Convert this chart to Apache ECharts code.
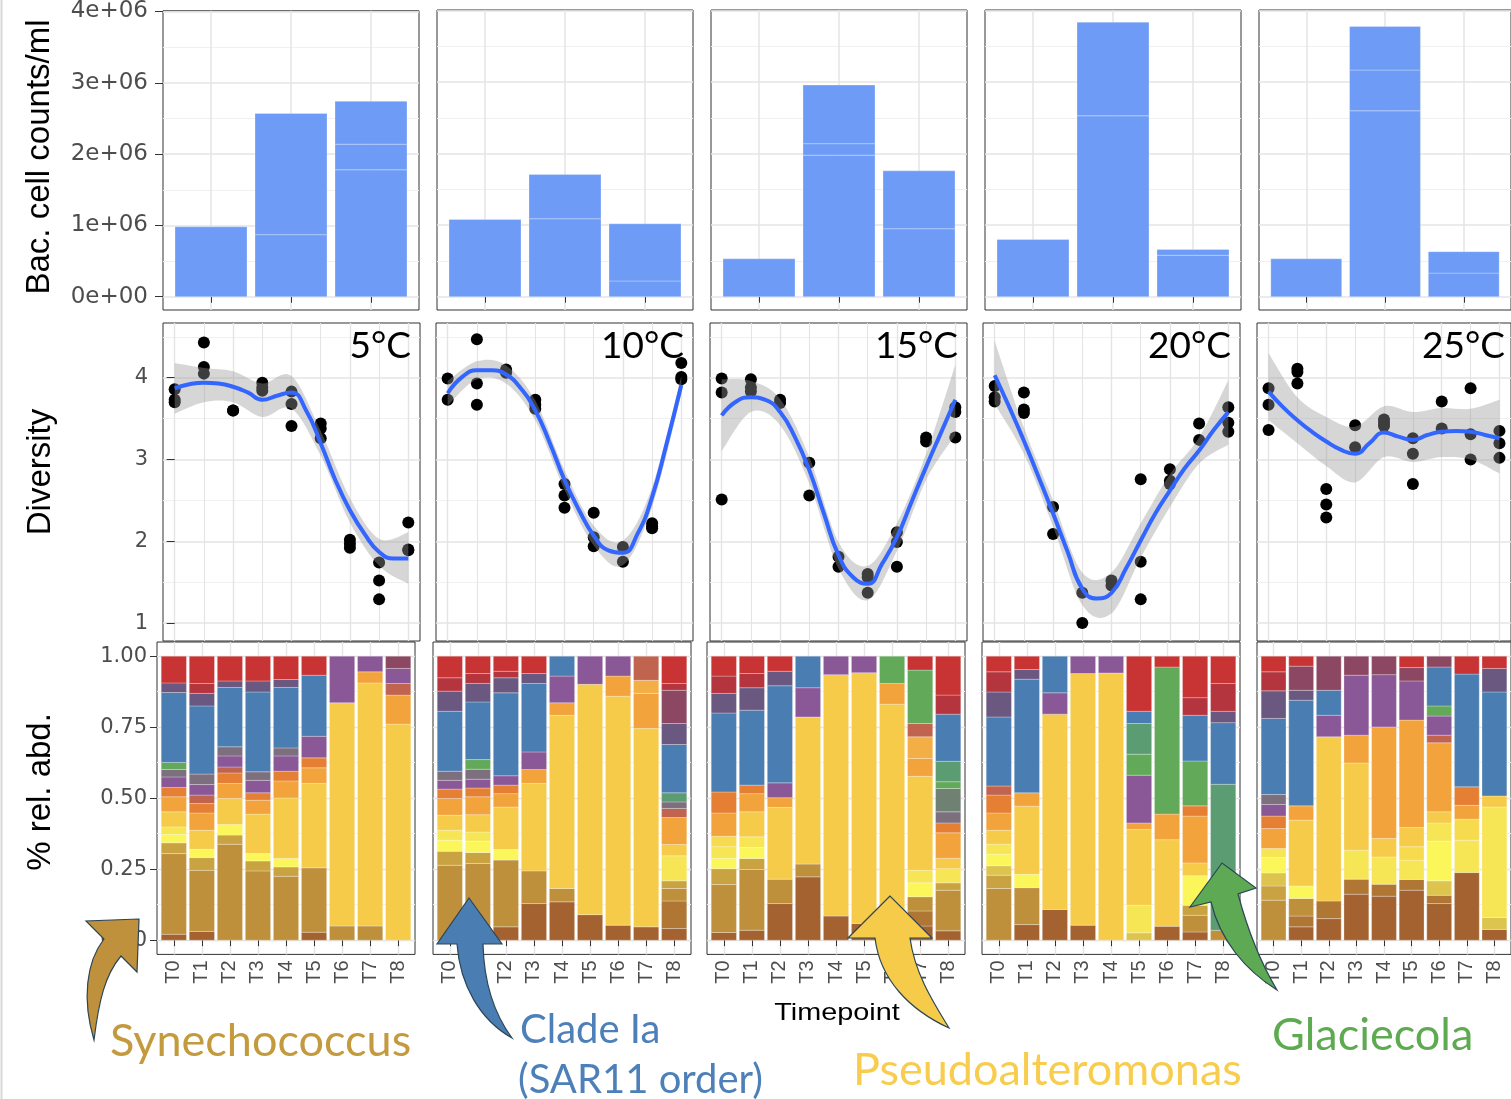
<!DOCTYPE html>
<html>
<head>
<meta charset="utf-8">
<script src="https://cdn.jsdelivr.net/npm/echarts@6.0.0/dist/echarts.min.js"></script>
<style>
html,body{margin:0;padding:0;background:#ffffff;}
#chart{width:1511px;height:1099px;}
</style>
</head>
<body>
<div id="chart"></div>
<script>
// ================= DATA =================
const temperatures = ['5°C', '10°C', '15°C', '20°C', '25°C'];
const timepoints = ['T0', 'T1', 'T2', 'T3', 'T4', 'T5', 'T6', 'T7', 'T8'];

const cellTicks = [0, 1e6, 2e6, 3e6, 4e6];
const cellTickLabels = ['0e+00', '1e+06', '2e+06', '3e+06', '4e+06'];
const cellMinorTicks = [0.5e6, 1.5e6, 2.5e6, 3.5e6];
const diversityTicks = [1, 2, 3, 4];
const diversityMinorTicks = [1.5, 2.5, 3.5, 4.5];
const timeMajorTicks = [0, 2, 4, 6, 8];
const timeMinorTicks = [1, 3, 5, 7];
const abundTicks = [0, 0.25, 0.5, 0.75, 1];
const abundTickLabels = ['0.00', '0.25', '0.50', '0.75', '1.00'];
const abundMinorTicks = [0.125, 0.375, 0.625, 0.875];

// Bacterial cell counts: 3 bars per temperature, each bar made of stacked sub-segments
const cellCounts5C  = [[0.98e6], [0.87e6, 1.70e6], [1.78e6, 0.36e6, 0.60e6]];
const cellCounts10C = [[1.08e6], [1.09e6, 0.62e6], [0.22e6, 0.80e6]];
const cellCounts15C = [[0.53e6], [1.98e6, 0.16e6, 0.82e6], [0.95e6, 0.81e6]];
const cellCounts20C = [[0.80e6], [2.53e6, 1.31e6], [0.58e6, 0.08e6]];
const cellCounts25C = [[0.53e6], [2.60e6, 0.57e6, 0.61e6], [0.33e6, 0.30e6]];

// Diversity points [timepoint, value]
const diversity5C = [[0,3.86],[0,3.73],[0,3.70],[1,4.43],[1,4.13],[1,4.05],[2,3.60],[2,3.60],[3,3.94],[3,3.88],[3,3.84],[4,3.83],[4,3.68],[4,3.41],[5,3.44],[5,3.38],[5,3.26],[6,2.02],[6,1.97],[6,1.92],[7,1.74],[7,1.52],[7,1.29],[8,2.23],[8,1.90],[8,1.89]];
const diversity10C = [[0,3.99],[0,3.73],[1,4.47],[1,3.93],[1,3.67],[2,4.10],[2,4.08],[2,4.06],[3,3.73],[3,3.67],[3,3.62],[4,2.70],[4,2.56],[4,2.41],[5,2.35],[5,2.05],[5,1.94],[6,1.93],[6,1.75],[7,2.22],[7,2.18],[7,2.16],[8,4.18],[8,4.01],[8,3.98]];
const diversity15C = [[0,3.99],[0,3.82],[0,2.51],[1,3.98],[1,3.88],[1,3.83],[2,3.73],[2,3.69],[3,2.96],[3,2.56],[4,1.81],[4,1.69],[5,1.60],[5,1.56],[5,1.37],[6,2.11],[6,1.99],[6,1.69],[7,3.27],[7,3.22],[8,3.64],[8,3.58],[8,3.27]];
const diversity20C = [[0,3.90],[0,3.76],[0,3.71],[1,3.82],[1,3.61],[1,3.57],[2,2.42],[2,2.09],[3,1.37],[3,1.00],[4,1.52],[4,1.46],[5,2.76],[5,1.75],[5,1.29],[6,2.88],[6,2.74],[6,2.70],[7,3.44],[7,3.24],[8,3.64],[8,3.45],[8,3.34]];
const diversity25C = [[0,3.87],[0,3.67],[0,3.36],[1,4.11],[1,4.07],[1,3.93],[2,2.64],[2,2.45],[2,2.29],[3,3.42],[3,3.15],[4,3.49],[4,3.45],[4,3.41],[5,3.26],[5,3.07],[5,2.70],[6,3.71],[6,3.38],[7,3.87],[7,3.31],[7,3.00],[8,3.35],[8,3.20],[8,3.02]];

// Smoothed (loess) curve read at half time steps
const smoothTimes = [0,0.5,1,1.5,2,2.5,3,3.5,4,4.5,5,5.5,6,6.5,7,7.5,8];
const smooth5C  = [3.87,3.92,3.94,3.93,3.89,3.82,3.73,3.78,3.82,3.60,3.20,2.75,2.38,2.09,1.87,1.79,1.79];
const smooth10C = [3.81,4.01,4.09,4.09,4.04,3.87,3.60,3.20,2.75,2.38,2.07,1.89,1.86,2.09,2.54,3.20,3.91];
const smooth15C = [3.54,3.71,3.76,3.73,3.58,3.28,2.87,2.34,1.83,1.56,1.48,1.73,2.05,2.48,2.91,3.32,3.73];
const smooth20C = [4.03,3.64,3.23,2.79,2.34,1.87,1.42,1.30,1.37,1.67,2.01,2.34,2.62,2.89,3.11,3.36,3.58];
const smooth25C = [3.83,3.64,3.48,3.34,3.22,3.12,3.07,3.20,3.33,3.28,3.24,3.30,3.34,3.35,3.34,3.30,3.26];

// Confidence band at each timepoint
const band5CLo  = [3.56,3.70,3.70,3.52,3.62,3.05,2.23,1.70,1.48];
const band5CHi  = [4.18,4.12,4.08,3.93,4.02,3.35,2.53,2.03,2.11];
const band10CLo = [3.66,3.98,3.93,3.48,2.63,1.95,1.71,2.42,3.80];
const band10CHi = [3.96,4.20,4.15,3.72,2.87,2.19,2.01,2.66,4.02];
const band15CLo = [3.10,3.58,3.42,2.71,1.67,1.28,1.88,2.75,3.30];
const band15CHi = [3.98,3.96,3.74,3.03,1.99,1.70,2.22,3.07,4.16];
const band20CLo = [3.68,3.07,2.18,1.22,1.12,1.80,2.42,2.95,3.18];
const band20CHi = [4.45,3.39,2.50,1.62,1.62,2.22,2.82,3.27,3.97];
const band25CLo = [3.48,3.20,2.92,2.72,3.03,2.97,3.03,3.00,2.83];
const band25CHi = [4.30,3.76,3.52,3.40,3.65,3.58,3.63,3.62,3.73];

// Taxa (stacking order bottom -> top)
const taxa = ['Taxon brown A','Taxon brown B','Synechococcus','Taxon gold','Taxon khaki','Taxon yellow A','Taxon yellow B','Taxon yellow C','Pseudoalteromonas','Taxon orange A','Taxon orange B','Taxon dark orange','Taxon salmon','Taxon purple','Taxon grey','Taxon grey-green','Glaciecola','Taxon teal','Clade Ia','Taxon slate','Taxon wine','Taxon crimson','Taxon red'];
const taxaKeys = ['Brown','BrownB','Syn','Gold','Khaki','YelB','YelL','YelL2','Pseudo','Orange','OrangeB','DkOrange','Salmon','Purple','Gray','GrayGreen','Green','Teal','Blue','Slate','Wine','Crimson','Red'];

// Relative abundance: each bar = list of [taxon, cumulative top of segment]
const relAbund5C = [
  [['Brown',.021],['Syn',.305],['Gold',.343],['YelB',.372],['YelL',.399],['Pseudo',.452],['Orange',.505],['DkOrange',.538],['Purple',.575],['Gray',.601],['Green',.626],['Blue',.872],['Slate',.906],['Red',1]],
  [['Brown',.031],['Syn',.246],['Gold',.291],['YelB',.320],['Pseudo',.387],['Orange',.448],['DkOrange',.481],['Salmon',.511],['Purple',.548],['Gray',.585],['Blue',.825],['Slate',.869],['Crimson',.904],['Red',1]],
  [['Syn',.338],['Gold',.370],['YelB',.407],['Pseudo',.499],['Orange',.552],['DkOrange',.589],['Salmon',.610],['Purple',.649],['Gray',.681],['Blue',.890],['Slate',.913],['Red',1]],
  [['Syn',.244],['Gold',.279],['YelB',.305],['Pseudo',.444],['Orange',.493],['DkOrange',.519],['Purple',.563],['Gray',.593],['Blue',.874],['Slate',.913],['Red',1]],
  [['Syn',.225],['Gold',.258],['YelB',.288],['Pseudo',.501],['Orange',.561],['DkOrange',.595],['Purple',.649],['Gray',.677],['Blue',.890],['Slate',.918],['Red',1]],
  [['Brown',.028],['Syn',.255],['Pseudo',.552],['Orange',.607],['DkOrange',.642],['Purple',.718],['Blue',.933],['Red',1]],
  [['Syn',.050],['Pseudo',.836],['Purple',1]],
  [['Syn',.050],['Pseudo',.906],['Orange',.945],['Purple',1]],
  [['Pseudo',.761],['Orange',.863],['Salmon',.904],['Purple',.957],['Wine',1]]
];
const relAbund10C = [
  [['Syn',.264],['Gold',.313],['YelB',.352],['YelL',.387],['Pseudo',.440],['Orange',.499],['DkOrange',.532],['Purple',.563],['Gray',.595],['Blue',.806],['Slate',.877],['Crimson',.924],['Red',1]],
  [['Syn',.270],['Gold',.309],['YelB',.349],['YelL',.381],['Pseudo',.442],['Orange',.505],['DkOrange',.536],['Purple',.567],['Gray',.602],['Green',.636],['Blue',.839],['Slate',.904],['Crimson',.939],['Red',1]],
  [['Brown',.047],['Syn',.282],['YelB',.319],['Pseudo',.469],['Orange',.516],['DkOrange',.546],['Purple',.579],['Blue',.871],['Slate',.924],['Crimson',.947],['Red',1]],
  [['Brown',.129],['Syn',.244],['Pseudo',.552],['Orange',.601],['Purple',.663],['Blue',.904],['Slate',.939],['Red',1]],
  [['Brown',.135],['Syn',.182],['Pseudo',.792],['Orange',.836],['Purple',.930],['Blue',1]],
  [['Brown',.090],['Pseudo',.901],['Purple',1]],
  [['Brown',.053],['Pseudo',.859],['Orange',.930],['Purple',1]],
  [['Brown',.047],['Pseudo',.745],['Orange',.869],['OrangeB',.915],['Salmon',1]],
  [['Brown',.041],['BrownB',.138],['Syn',.182],['Gold',.209],['YelL',.297],['Pseudo',.337],['Orange',.432],['Salmon',.464],['Gray',.487],['Teal',.519],['Blue',.689],['Slate',.763],['Wine',.880],['Crimson',.904],['Red',1]]
];
const relAbund15C = [
  [['Brown',.027],['Syn',.196],['Gold',.252],['YelB',.288],['YelL',.329],['YelL2',.366],['Orange',.448],['DkOrange',.522],['Blue',.800],['Slate',.869],['Crimson',.930],['Red',1]],
  [['Brown',.035],['Syn',.249],['Gold',.288],['YelB',.326],['YelL',.364],['Pseudo',.452],['Orange',.516],['DkOrange',.546],['Blue',.810],['Slate',.889],['Crimson',.939],['Red',1]],
  [['Brown',.129],['Syn',.215],['Pseudo',.467],['Orange',.502],['Purple',.554],['Blue',.896],['Slate',.947],['Red',1]],
  [['Brown',.223],['Syn',.268],['Pseudo',.786],['Purple',.889],['Blue',1]],
  [['Brown',.085],['Pseudo',.935],['Purple',1]],
  [['Brown',.059],['Pseudo',.942],['Purple',1]],
  [['Pseudo',.831],['Orange',.904],['Green',1]],
  [['Brown',.050],['BrownB',.103],['Syn',.153],['YelB',.202],['YelL',.246],['Pseudo',.577],['Orange',.640],['OrangeB',.716],['Salmon',.763],['Green',.951],['Red',1]],
  [['Brown',.033],['Syn',.176],['Gold',.202],['YelL',.252],['Pseudo',.288],['Orange',.378],['DkOrange',.413],['Gray',.452],['GrayGreen',.534],['Green',.558],['Teal',.630],['Blue',.796],['Crimson',.863],['Red',1]]
];
const relAbund20C = [
  [['Syn',.182],['Gold',.229],['Khaki',.262],['YelB',.303],['YelL',.338],['Pseudo',.387],['Orange',.448],['DkOrange',.511],['Salmon',.543],['Blue',.786],['Slate',.874],['Crimson',.945],['Red',1]],
  [['Brown',.055],['Syn',.185],['YelB',.232],['Pseudo',.472],['Orange',.519],['Blue',.919],['Slate',.953],['Red',1]],
  [['Brown',.108],['Pseudo',.796],['Purple',.871],['Blue',1]],
  [['Brown',.053],['Pseudo',.939],['Purple',1]],
  [['Pseudo',.941],['Purple',1]],
  [['Khaki',.026],['YelL',.123],['Pseudo',.390],['Orange',.413],['Purple',.581],['Green',.655],['Teal',.763],['Blue',.806],['Red',1]],
  [['Brown',.049],['Pseudo',.354],['Orange',.444],['Green',.962],['Red',1]],
  [['Brown',.029],['Syn',.088],['Gold',.123],['YelB',.227],['Pseudo',.272],['Orange',.437],['DkOrange',.473],['Green',.631],['Blue',.792],['Crimson',.854],['Red',1]],
  [['Syn',.035],['Teal',.549],['Blue',.766],['Slate',.806],['Crimson',.904],['Red',1]]
];
const relAbund25C = [
  [['Syn',.141],['Gold',.191],['Khaki',.237],['YelB',.291],['YelL',.323],['Orange',.393],['DkOrange',.437],['Purple',.478],['Gray',.513],['Blue',.781],['Slate',.878],['Crimson',.945],['Red',1]],
  [['Brown',.047],['BrownB',.085],['Syn',.147],['YelB',.191],['Pseudo',.423],['Orange',.473],['Blue',.845],['Slate',.880],['Wine',.965],['Red',1]],
  [['Brown',.076],['BrownB',.138],['Pseudo',.716],['Purple',.792],['Blue',.880],['Wine',1]],
  [['Brown',.162],['BrownB',.215],['YelL',.317],['Pseudo',.624],['Orange',.722],['Purple',.933],['Wine',1]],
  [['Brown',.155],['BrownB',.197],['YelL',.293],['Pseudo',.358],['Orange',.751],['Purple',.935],['Wine',1]],
  [['Brown',.176],['BrownB',.214],['YelL',.282],['YelL2',.329],['Pseudo',.397],['Orange',.775],['Purple',.913],['Wine',.960],['Red',1]],
  [['Brown',.129],['BrownB',.158],['Khaki',.209],['YelB',.349],['YelL',.413],['Pseudo',.452],['Orange',.695],['Salmon',.722],['Purple',.789],['Green',.825],['Blue',.962],['Wine',1]],
  [['Brown',.238],['YelL',.352],['YelL2',.426],['Orange',.475],['DkOrange',.540],['Blue',.937],['Red',1]],
  [['Brown',.038],['Khaki',.080],['YelL',.469],['Pseudo',.508],['Blue',.874],['Slate',.957],['Red',1]]
];

// ================= STYLE =================
const taxaColors = ['#A3622F','#B07634','#BF903C','#C9A342','#DCC44E','#FBF75A','#F6E555','#F7DB4F','#F6CB4A','#F2A33B','#F3AE45','#E47F33','#C0644F','#8A5797','#7C6F7E','#6F8172','#63A95A','#5B9C73','#4A7DB1','#6A5880','#8C4862','#B5353F','#C83333'];
const BAR_BLUE = '#6D9BF5';
const MAJOR = '#E4E4E4', MINOR = '#F0F0F0';
const TICK_FONT = 'DejaVu Sans';
const SEG_EDGE = 'rgba(255,255,255,0.35)';

const cellPanels = [cellCounts5C, cellCounts10C, cellCounts15C, cellCounts20C, cellCounts25C];
const divPanels = [diversity5C, diversity10C, diversity15C, diversity20C, diversity25C];
const smoothPanels = [smooth5C, smooth10C, smooth15C, smooth20C, smooth25C];
const bandLoPanels = [band5CLo, band10CLo, band15CLo, band20CLo, band25CLo];
const bandHiPanels = [band5CHi, band10CHi, band15CHi, band20CHi, band25CHi];
const abundPanels = [relAbund5C, relAbund10C, relAbund15C, relAbund20C, relAbund25C];

const topLeft = [163, 437, 711, 985, 1259];
const midLeft = [163, 436, 710, 983, 1257];
const botLeft = [157, 433, 707, 982, 1257];

const grids = [], xAxes = [], yAxes = [], series = [];

function addGrid(left, top, width, height) {
  grids.push({left, top, width, height, show: true, borderColor: '#333', borderWidth: 1, backgroundColor: '#fff'});
  return grids.length - 1;
}
function fmtFrom(ticks, labels) {
  return v => { const i = ticks.findIndex(t => Math.abs(t - v) < 1e-6 * Math.max(1, Math.abs(t))); return i >= 0 ? labels[i] : ''; };
}
function hiddenAxis(gridIndex, min, max, minorVals) {
  return {type: 'value', gridIndex, min, max, axisLine: {show: false},
    axisTick: {show: false, customValues: minorVals}, axisLabel: {show: false},
    splitLine: {show: true, lineStyle: {color: MINOR, width: 1}}};
}
// stacked bar segment drawn through the axes: item = [x, base, top]
function segmentRenderer(fill, halfWidth) {
  return (params, api) => {
    const x = api.value(0), y0 = api.value(1), y1 = api.value(2);
    const a = api.coord([x - halfWidth, y1]);
    const b = api.coord([x + halfWidth, y0]);
    return {type: 'rect', shape: {x: a[0], y: a[1], width: b[0] - a[0], height: b[1] - a[1]},
      style: {fill, stroke: SEG_EDGE, lineWidth: 0.8}};
  };
}
// smooth cubic path through screen points (Catmull-Rom)
function smoothSegments(pts) {
  let d = '';
  for (let i = 0; i < pts.length - 1; i++) {
    const p0 = pts[Math.max(i - 1, 0)], p1 = pts[i], p2 = pts[i + 1], p3 = pts[Math.min(i + 2, pts.length - 1)];
    const c1 = [p1[0] + (p2[0] - p0[0]) / 6, p1[1] + (p2[1] - p0[1]) / 6];
    const c2 = [p2[0] - (p3[0] - p1[0]) / 6, p2[1] - (p3[1] - p1[1]) / 6];
    d += ` C${c1[0]} ${c1[1]} ${c2[0]} ${c2[1]} ${p2[0]} ${p2[1]}`;
  }
  return d;
}
function bandRenderer(lo, hi) {
  return (params, api) => {
    if (params.dataIndex !== 0) return null;
    const up = hi.map((v, t) => api.coord([t, v]));
    const dn = lo.map((v, t) => api.coord([t, v])).reverse();
    const d = `M${up[0][0]} ${up[0][1]}` + smoothSegments(up) + ` L${dn[0][0]} ${dn[0][1]}` + smoothSegments(dn) + ' Z';
    return {type: 'path', shape: {pathData: d}, style: {fill: 'rgba(153,153,153,0.4)'}};
  };
}

for (let p = 0; p < 5; p++) {
  // ---------- top row: cell counts ----------
  let g = addGrid(topLeft[p], 10, 256, 300);
  let xi = xAxes.length;
  xAxes.push({type: 'value', gridIndex: g, min: 0.4, max: 3.6, axisLine: {show: false},
    axisTick: {show: true, length: 6, lineStyle: {color: '#333'}, customValues: [1, 2, 3]},
    axisLabel: {show: false, customValues: [1, 2, 3]},
    splitLine: {show: true, lineStyle: {color: MAJOR, width: 1.5}}});
  let yi = yAxes.length;
  yAxes.push({type: 'value', gridIndex: g, min: -0.186e6, max: 4.01e6, axisLine: {show: false},
    axisTick: {show: p === 0, length: 8, lineStyle: {color: '#333'}, customValues: cellTicks},
    axisLabel: {show: p === 0, customValues: cellTicks, formatter: fmtFrom(cellTicks, cellTickLabels),
      color: '#4D4D4D', fontSize: 23, fontFamily: TICK_FONT, margin: 15},
    splitLine: {show: true, lineStyle: {color: MAJOR, width: 1.5}}});
  yAxes.push(hiddenAxis(g, -0.186e6, 4.01e6, cellMinorTicks));
  const cellItems = [];
  cellPanels[p].forEach((bar, b) => {
    let base = 0;
    bar.forEach(v => { cellItems.push([b + 1, base, base + v]); base += v; });
  });
  series.push({type: 'custom', name: 'Bac. cell counts', xAxisIndex: xi, yAxisIndex: yi, clip: true,
    encode: {x: 0, y: [1, 2]}, data: cellItems, renderItem: segmentRenderer(BAR_BLUE, 0.45), silent: true, z: 2});

  // ---------- middle row: diversity ----------
  g = addGrid(midLeft[p], 323, 257, 318);
  xi = xAxes.length;
  xAxes.push({type: 'value', gridIndex: g, min: -0.4, max: 8.4, axisLine: {show: false},
    axisTick: {show: false, customValues: timeMajorTicks}, axisLabel: {show: false},
    splitLine: {show: true, lineStyle: {color: MAJOR, width: 1.4}}});
  xAxes.push({type: 'value', gridIndex: g, min: -0.4, max: 8.4, axisLine: {show: false},
    axisTick: {show: false, customValues: timeMinorTicks}, axisLabel: {show: false},
    splitLine: {show: true, lineStyle: {color: MAJOR, width: 1.1}}});
  yi = yAxes.length;
  yAxes.push({type: 'value', gridIndex: g, min: 0.781, max: 4.669, axisLine: {show: false},
    axisTick: {show: p === 0, length: 8, lineStyle: {color: '#333'}, customValues: diversityTicks},
    axisLabel: {show: p === 0, customValues: diversityTicks, formatter: v => String(Math.round(v)),
      color: '#4D4D4D', fontSize: 21, fontFamily: TICK_FONT, margin: 15},
    splitLine: {show: true, lineStyle: {color: MAJOR, width: 1.5}}});
  yAxes.push(hiddenAxis(g, 0.781, 4.669, diversityMinorTicks));
  series.push({type: 'scatter', name: 'Diversity', xAxisIndex: xi, yAxisIndex: yi, data: divPanels[p],
    symbolSize: 12, itemStyle: {color: '#000', opacity: 1}, z: 2, silent: true});
  const lo = bandLoPanels[p], hi = bandHiPanels[p];
  series.push({type: 'custom', name: 'confidence band', xAxisIndex: xi, yAxisIndex: yi, clip: true,
    encode: {x: 0, y: [1, 2]}, data: lo.map((v, t) => [t, v, hi[t]]),
    renderItem: bandRenderer(lo, hi), silent: true, z: 3});
  series.push({type: 'line', name: 'loess', xAxisIndex: xi, yAxisIndex: yi, smooth: true,
    symbol: 'none', lineStyle: {color: '#3366FF', width: 4}, z: 4, silent: true,
    data: smoothPanels[p].map((v, i) => [smoothTimes[i], v])});

  // ---------- bottom row: relative abundance ----------
  g = addGrid(botLeft[p], 642, 258, 312.4);
  xi = xAxes.length;
  const tpVals = timepoints.map((t, i) => i + 1);
  xAxes.push({type: 'value', gridIndex: g, min: 0.4, max: 9.6, axisLine: {show: false},
    axisTick: {show: true, length: 6, lineStyle: {color: '#333'}, customValues: tpVals},
    axisLabel: {show: true, customValues: tpVals, formatter: v => timepoints[Math.round(v) - 1] || '',
      rotate: 90, color: '#4D4D4D', fontSize: 20, fontFamily: 'Liberation Sans', margin: 6},
    splitLine: {show: true, lineStyle: {color: MAJOR, width: 1.4}}});
  yi = yAxes.length;
  yAxes.push({type: 'value', gridIndex: g, min: -0.05, max: 1.05, axisLine: {show: false},
    axisTick: {show: p === 0, length: 7, lineStyle: {color: '#333'}, customValues: abundTicks},
    axisLabel: {show: p === 0, customValues: abundTicks, formatter: fmtFrom(abundTicks, abundTickLabels),
      color: '#4D4D4D', fontSize: 21, fontFamily: TICK_FONT, margin: 10},
    splitLine: {show: true, lineStyle: {color: MAJOR, width: 1.4}}});
  yAxes.push(hiddenAxis(g, -0.05, 1.05, abundMinorTicks));
  const bars = abundPanels[p];
  taxaKeys.forEach((key, k) => {
    const data = [];
    bars.forEach((bar, b) => {
      let prev = 0;
      for (const [tk, top] of bar) {
        if (tk === key) data.push([b + 1, prev, top]);
        prev = top;
      }
    });
    if (data.length) series.push({type: 'custom', name: taxa[k], xAxisIndex: xi, yAxisIndex: yi, clip: true,
      encode: {x: 0, y: [1, 2]}, data, renderItem: segmentRenderer(taxaColors[k], 0.45), silent: true, z: 2});
  });
}

// ================= ANNOTATIONS =================
const OUTLINE = '#2C4656';
const arrowShapes = [
  {d: 'M139 919 L86 921 L104 939 C86 962 82 1000 94 1040 C99 1000 105 975 121 956 L137 972 Z', fill: '#BF913D'},
  {d: 'M469 898 L437 944 L457 944 C460 985 480 1020 512 1038 C495 1015 484 985 483 944 L502 944 Z', fill: '#4A7DB1'},
  {d: 'M890 896 L848 938 L875 938 C880 980 910 1010 949 1028 C935 1005 915 975 910 938 L932 938 Z', fill: '#F7CB4A'},
  {d: 'M1222 863 L1190 907 L1211 902 C1220 940 1245 970 1277 990 C1262 965 1249 935 1238 894 L1256 888 Z', fill: '#5EAA54'}
];
series.push({
  type: 'custom', coordinateSystem: 'none', z: 60, silent: true,
  data: arrowShapes.map((a, i) => i),
  renderItem: (params, api) => {
    const a = arrowShapes[params.dataIndex];
    return {type: 'path', shape: {pathData: a.d}, style: {fill: a.fill, stroke: OUTLINE, lineWidth: 1.2}};
  }
});

const graphic = [
  {type: 'line', shape: {x1: 1.5, y1: 0, x2: 1.5, y2: 1099}, style: {stroke: '#D8D8D8', lineWidth: 2}, z: 50},
  {type: 'text', x: 40, y: 157, rotation: Math.PI / 2, z: 50,
    style: {text: 'Bac. cell counts/ml', fill: '#000', font: '33px "Liberation Sans"', align: 'center', verticalAlign: 'middle'}},
  {type: 'text', x: 41, y: 472, rotation: Math.PI / 2, z: 50,
    style: {text: 'Diversity', fill: '#000', font: '33px "Liberation Sans"', align: 'center', verticalAlign: 'middle'}},
  {type: 'text', x: 41, y: 792, rotation: Math.PI / 2, z: 50,
    style: {text: '% rel. abd.', fill: '#000', font: '33px "Liberation Sans"', align: 'center', verticalAlign: 'middle'}},
  {type: 'text', x: 837, y: 1013, scaleX: 1.2, z: 50,
    style: {text: 'Timepoint', fill: '#000', font: '24px "Liberation Sans"', align: 'center', verticalAlign: 'middle'}},
  {type: 'text', x: 110, y: 1041, z: 70, style: {text: 'Synechococcus', fill: '#C49A3F', font: '45px Lato', align: 'left', verticalAlign: 'middle'}},
  {type: 'text', x: 520, y: 1030, z: 70, style: {text: 'Clade Ia', fill: '#4D80B8', font: '40px Lato', align: 'left', verticalAlign: 'middle'}},
  {type: 'text', x: 518, y: 1080, z: 70, style: {text: '(SAR11 order)', fill: '#4D80B8', font: '40px Lato', align: 'left', verticalAlign: 'middle'}},
  {type: 'text', x: 853, y: 1070, z: 70, style: {text: 'Pseudoalteromonas', fill: '#F8CD4D', font: '45px Lato', align: 'left', verticalAlign: 'middle'}},
  {type: 'text', x: 1272, y: 1035, z: 70, style: {text: 'Glaciecola', fill: '#5DAA50', font: '45px Lato', align: 'left', verticalAlign: 'middle'}}
];
temperatures.forEach((t, p) => {
  graphic.push({type: 'text', x: midLeft[p] + 257 - 9, y: 346, z: 55,
    style: {text: t, fill: '#000', font: '37px Lato', align: 'right', verticalAlign: 'middle'}});
});

const chart = echarts.init(document.getElementById('chart'), null, {renderer: 'canvas'});
chart.setOption({
  animation: false,
  backgroundColor: '#ffffff',
  grid: grids,
  xAxis: xAxes,
  yAxis: yAxes,
  series: series,
  graphic: graphic
});
</script>
</body>
</html>
